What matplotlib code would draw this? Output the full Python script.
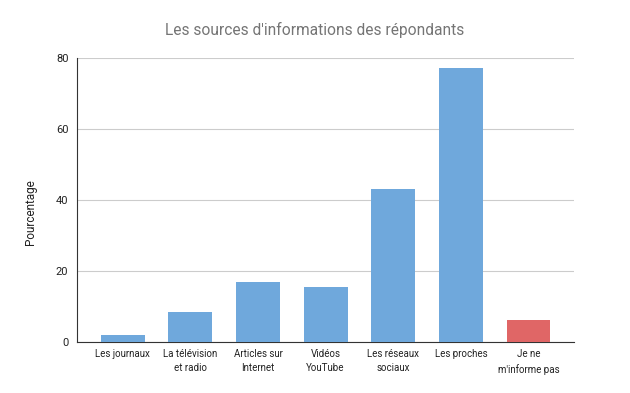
import matplotlib

matplotlib.use("Agg")
import matplotlib.pyplot as plt

categories = [
    "Les journaux",
    "La télévision\net radio",
    "Articles sur\nInternet",
    "Vidéos\nYouTube",
    "Les réseaux\nsociaux",
    "Les proches",
    "Je ne\nm'informe pas",
]
values = [2.0, 8.5, 17.0, 15.6, 43.2, 77.3, 6.3]
colors = ["#6fa8dc"] * 6 + ["#e06666"]
y_ticks = [0, 20, 40, 60, 80]

plt.rcParams["font.family"] = ["Roboto", "DejaVu Sans"]

fig = plt.figure(figsize=(6.3, 3.93), dpi=100)
ax = fig.add_axes([0.1218, 0.129, 0.789, 0.7227])

x = range(len(categories))
ax.bar(x, values, width=0.65, color=colors, zorder=3)

ax.set_xlim(-0.68, 6.67)
ax.set_ylim(0, 80)
ax.set_yticks(y_ticks)
ax.set_xticks(list(x))
ax.set_xticklabels(categories, fontsize=7, color="#222222", linespacing=1.5)
ax.tick_params(axis="y", labelsize=8, colors="#222222", length=0, pad=6)
ax.tick_params(axis="x", length=0, pad=5)

ax.grid(axis="y", color="#cccccc", linewidth=0.8, zorder=0)
for side in ["top", "right"]:
    ax.spines[side].set_visible(False)
ax.spines["left"].set_color("#333333")
ax.spines["bottom"].set_color("#333333")

ax.set_ylabel("Pourcentage", fontsize=8.5, color="#222222")
ax.yaxis.set_label_coords(-0.08, 0.46)
fig.text(0.5, 0.924, "Les sources d'informations des répondants",
         ha="center", va="center", fontsize=11.2, color="#757575")

plt.savefig("out.png", dpi=100)
